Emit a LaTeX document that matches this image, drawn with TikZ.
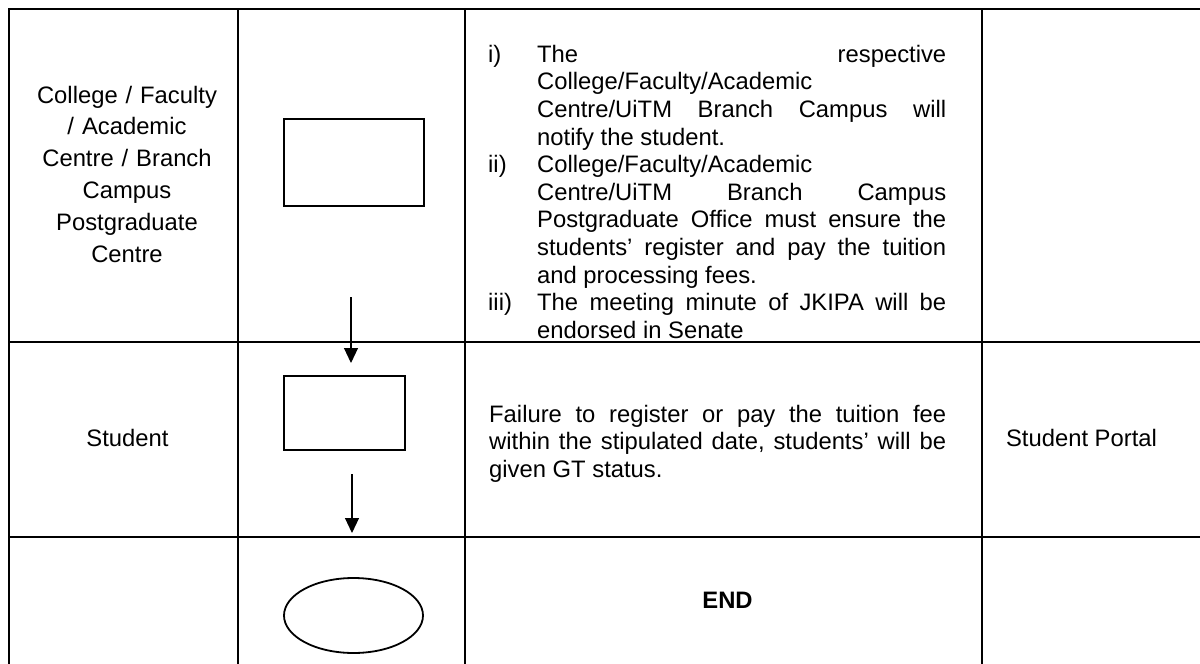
\documentclass[tikz,border=0pt]{standalone}
\usepackage{fontspec}
\setmainfont{Liberation Sans}
\usetikzlibrary{shapes.geometric, arrows.meta}
\tolerance=10000
\hbadness=10000

\begin{document}
\begin{tikzpicture}[
  x=1pt, y=-1pt,
  grid/.style={line width=2pt, line cap=rect},
  proc/.style={draw, line width=2pt, inner sep=0pt, outer sep=0pt},
  term/.style={draw, ellipse, line width=1.8pt, inner sep=0pt, outer sep=0pt},
  lane/.style={inner sep=0pt, text width=220pt, align=center, font=\fontsize{23.8}{31.8}\selectfont},
  note/.style={inner sep=0pt, align=justify, font=\fontsize{23.8}{27.6}\selectfont},
  cell/.style={inner sep=0pt, font=\fontsize{23.8}{27.6}\selectfont},
  arr/.style={-{Triangle[length=15pt, width=14pt]}, line width=1.1pt}
]
\useasboundingbox (0,0) rectangle (1200,664);

% Table grid
\draw[grid] (9,9) -- (1200,9);
\draw[grid] (9,342) -- (1200,342);
\draw[grid] (9,537) -- (1200,537);
\draw[grid] (9,9) -- (9,664);
\draw[grid] (238,9) -- (238,664);
\draw[grid] (465,9) -- (465,664);
\draw[grid] (982,9) -- (982,664);

% Responsible parties
\node[lane, anchor=base] (college) at (127,103) {College / Faculty\\ / Academic\\ Centre / Branch\\ Campus\\ Postgraduate\\ Centre};
\node[cell, anchor=base] (student) at (127.5,446.7) {Student};

% Flow symbols
\node[proc, minimum width=140pt, minimum height=87pt] (notify) at (354,162.5) {};
\node[proc, minimum width=121pt, minimum height=74pt] (register) at (344.5,413) {};
\node[term, minimum width=139pt, minimum height=75pt] (finish) at (353.5,615.5) {};

% Descriptions
\node[note, text width=458pt, anchor=base west] (steps) at (488,62.2) {%
\hangindent=49pt\hangafter=1\makebox[49pt][l]{i)}The~respective\linebreak
College/Faculty/Academic\newline
Centre/UiTM~Branch~Campus~will\linebreak
notify~the~student.\par
\hangindent=49pt\hangafter=1\makebox[49pt][l]{ii)}College/Faculty/Academic\newline
Centre/UiTM~Branch~Campus\linebreak
Postgraduate~Office~must~ensure~the\linebreak
students’~register~and~pay~the~tuition\linebreak
and~processing~fees.\par
\hangindent=49pt\hangafter=1\makebox[49pt][l]{iii)}The~meeting~minute~of~JKIPA~will~be\linebreak
endorsed~in~Senate\par};
\node[note, text width=457pt, anchor=base west] (failure) at (489,422) {%
Failure~to~register~or~pay~the~tuition~fee\linebreak
within~the~stipulated~date,~students’~will~be\linebreak
given~GT~status.};
\node[cell, anchor=base, font=\fontsize{23.8}{27.6}\selectfont\bfseries] (endtext) at (727.5,608) {END};

% Document
\node[cell, anchor=base] (portal) at (1081.5,446.7) {Student Portal};

% Arrows
\coordinate (a1top) at (351,297);
\coordinate (a1tip) at (351,363);
\coordinate (a2top) at (352,474);
\coordinate (a2tip) at (352,533);
\draw[arr] (a1top) -- (a1tip);
\draw[arr] (a2top) -- (a2tip);
\end{tikzpicture}
\end{document}
